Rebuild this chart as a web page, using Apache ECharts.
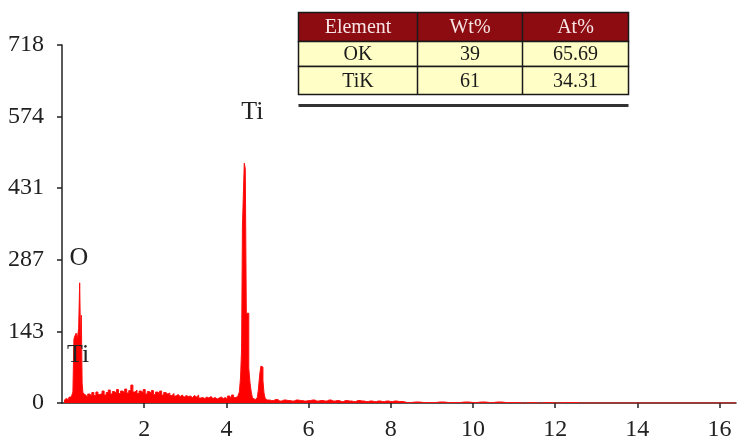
<!DOCTYPE html>
<html>
<head>
<meta charset="utf-8">
<script src="https://cdn.jsdelivr.net/npm/echarts@6/dist/echarts.min.js"></script>
<style>html,body{margin:0;padding:0;background:#fff}#c{width:744px;height:442px}</style>
</head>
<body>
<div id="c"></div>
<script>
// Spectrum (keV, counts)
var energyKeV = [
  0.05,0.10,0.15,0.20,0.25,0.28,0.30,0.33,0.36,0.39,0.42,0.44,0.46,0.48,0.50,0.52,
  0.55,0.60,0.65,0.70,0.75,0.80,0.85,0.90,0.95,1.00,1.05,1.10,1.15,1.20,1.25,1.30,1.35,1.40,1.45,1.50,
  1.55,1.60,1.65,1.70,1.75,1.80,1.85,1.90,1.95,2.00,2.05,2.10,2.15,2.20,2.25,2.30,2.35,2.40,2.45,2.50,
  2.55,2.60,2.65,2.70,2.75,2.80,2.85,2.90,2.95,3.00,3.05,3.10,3.15,3.20,3.25,3.30,3.35,3.40,3.45,3.50,
  3.55,3.60,3.65,3.70,3.75,3.80,3.85,3.90,3.95,4.00,4.05,4.10,4.15,4.20,4.25,4.30,
  4.33,4.36,4.38,4.40,4.42,4.45,4.47,4.50,4.53,4.56,4.59,4.62,4.65,4.70,4.75,
  4.80,4.83,4.85,4.88,4.90,4.93,4.96,
  5.0,5.1,5.2,5.3,5.4,5.5,5.6,5.7,5.8,5.9,6.0,6.1,6.2,6.3,6.4,6.5,6.6,6.7,6.8,6.9,
  7.0,7.1,7.2,7.3,7.4,7.5,7.6,7.7,7.8,7.9,8.0,8.1,8.2,
  8.4,8.6,8.8,9.0,9.2,9.4,9.6,9.8,10.0,10.2,10.4,10.6,10.8,11.0,11.2,11.4,11.6,11.8,12.0,12.2,12.4,12.6,16.4
];
var counts = [
  5,9,7,12,10,22,128,135,140,130,150,241,135,176,40,20,
  16,12,18,14,21,15,22,17,19,24,16,21,26,18,23,20,27,19,24,21,
  28,20,25,36,22,26,19,24,21,27,18,23,20,25,17,22,19,24,16,21,
  18,20,15,19,14,17,13,16,12,15,13,14,11,15,12,16,10,11,9,12,
  10,13,9,11,8,10,12,9,11,8,14,10,16,11,13,15,
  22,52,110,353,353,481,470,180,180,70,40,22,10,7,10,
  25,60,74,72,45,20,9,
  6,5,7,4,6,5,4,6,5,4,5,6,4,5,4,6,4,5,3,5,
  4,3,5,4,3,4,3,4,3,4,3,4,3,
  1,2,1,1,2,1,1,2,1,2,1,2,1,1,0,1,0,1,0,1,1,0,0
];
var yTicks = [0, 143, 287, 431, 574, 718];
var xTickLabels = [2, 4, 6, 8, 10, 12, 14, 16];
var peakLabels = [
  {name: 'Ti', coord: [4.63, 584]},
  {name: 'O', coord: [0.41, 290]},
  {name: 'Ti', coord: [0.39, 96]}
];
var tableHeader = ['Element', 'Wt%', 'At%'];
var tableRows = [['OK', '39', '65.69'], ['TiK', '61', '34.31']];

var serif = '"Liberation Serif", "DejaVu Serif", serif';
var spectrum = energyKeV.map(function (e, i) { return [e, counts[i]]; });

// table graphic
var colX = [0, 119, 224, 330];
var rowY = [0, 29, 54, 82];
var tChildren = [];
for (var r = 0; r < 3; r++) {
  tChildren.push({
    type: 'rect',
    shape: {x: 0, y: rowY[r], width: colX[3], height: rowY[r + 1] - rowY[r]},
    style: {fill: r === 0 ? '#8c0c12' : '#fffec6', stroke: '#1a1a1a', lineWidth: 1.5}
  });
  var cells = r === 0 ? tableHeader : tableRows[r - 1];
  for (var c = 0; c < 3; c++) {
    tChildren.push({
      type: 'text',
      x: (colX[c] + colX[c + 1]) / 2,
      y: (rowY[r] + rowY[r + 1]) / 2 + 1,
      style: {
        text: cells[c], fill: r === 0 ? '#f7e4e4' : '#1a1a1a',
        font: '20px ' + serif, align: 'center', verticalAlign: 'middle'
      }
    });
  }
}
for (var c2 = 1; c2 < 3; c2++) {
  tChildren.push({
    type: 'line',
    shape: {x1: colX[c2], y1: 0, x2: colX[c2], y2: rowY[3]},
    style: {stroke: '#1a1a1a', lineWidth: 1.5}
  });
}
tChildren.push({
  type: 'line',
  shape: {x1: 0, y1: 93, x2: colX[3], y2: 93},
  style: {stroke: '#333', lineWidth: 3}
});

var chart = echarts.init(document.getElementById('c'));
chart.setOption({
  backgroundColor: '#fff',
  animation: false,
  grid: {left: 62, right: 8, top: 45, bottom: 39},
  xAxis: {
    type: 'value', min: 0, max: 16.4, interval: 2,
    axisLine: {lineStyle: {color: '#222', width: 1.5}},
    axisTick: {show: true, length: 5, lineStyle: {color: '#222', width: 1.5}},
    axisLabel: {
      showMinLabel: false, showMaxLabel: false, margin: 15,
      color: '#222', fontFamily: serif, fontSize: 24,
      formatter: function (v) { return xTickLabels.indexOf(v) >= 0 ? String(v) : ''; }
    },
    splitLine: {show: false}
  },
  yAxis: {
    type: 'value', min: 0, max: 718, interval: 143.6,
    axisLine: {show: true, lineStyle: {color: '#222', width: 1.5}},
    axisTick: {show: true, length: 5, lineStyle: {color: '#222', width: 1.5}},
    axisLabel: {
      margin: 18, color: '#222', fontFamily: serif, fontSize: 24,
      formatter: function (v) {
        for (var i = 0; i < yTicks.length; i++) if (Math.abs(yTicks[i] - v) < 1) return String(yTicks[i]);
        return String(Math.round(v));
      }
    },
    splitLine: {show: false}
  },
  series: [{
    type: 'line',
    data: spectrum,
    step: 'middle',
    symbol: 'none',
    lineStyle: {color: '#ff1010', width: 1},
    areaStyle: {color: '#ff0000', opacity: 1},
    markPoint: {
      symbol: 'circle', symbolSize: 0,
      label: {show: true, formatter: '{b}', color: '#222', fontFamily: serif, fontSize: 26},
      data: peakLabels
    }
  }],
  graphic: [{
    type: 'group', left: 296, top: 10,
    children: tChildren
  }]
});
</script>
</body>
</html>
